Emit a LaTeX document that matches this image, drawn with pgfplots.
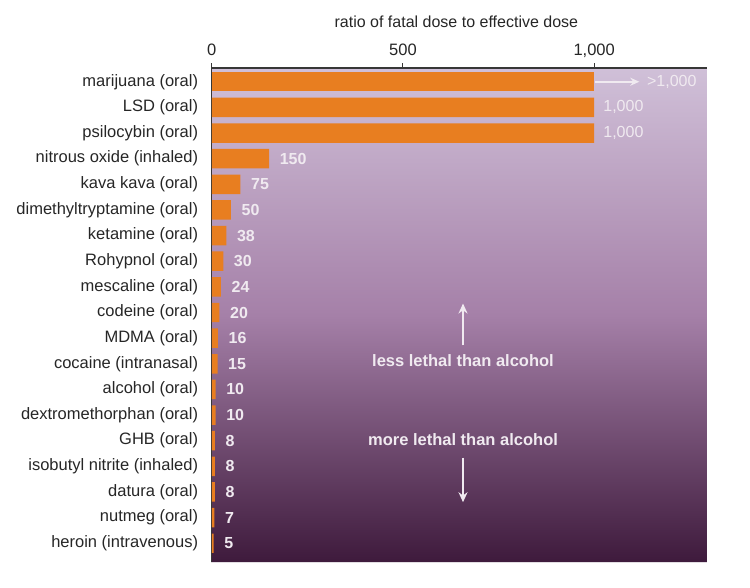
\documentclass[border=0pt]{standalone}
\usepackage{fontspec}
\setmainfont{Liberation Sans}
\usepackage{pgfplots}
\usepackage{pgfplotstable}
\pgfplotsset{compat=1.18}
\usetikzlibrary{arrows.meta}
\definecolor{barorange}{RGB}{232,126,32}
\definecolor{bgtop}{RGB}{208,192,216}
\definecolor{bgmid}{RGB}{165,128,168}
\definecolor{bgbot}{RGB}{62,26,60}
\definecolor{labtxt}{RGB}{240,234,240}
\definecolor{axcol}{RGB}{55,55,55}
\newcommand{\fs}{\fontsize{16.5bp}{19bp}\selectfont}
\newcommand{\fv}{\fontsize{16bp}{19bp}\selectfont}
\pgfplotstableread{
y x lab
0 5 5
1 7 7
2 8 8
3 8 8
4 8 8
5 10 10
6 10 10
7 15 15
8 16 16
9 20 20
10 24 24
11 30 30
12 38 38
13 50 50
14 75 75
15 150 150
}\datatab
\pgfplotstableread{
y x lab
16 1000 1,000
17 1000 1,000
}\bigtab
\begin{document}
\begin{tikzpicture}
\begin{axis}[
  scale only axis, width=495bp, height=494bp,
  xmin=0, xmax=1295, ymin=-0.74, ymax=18.535,
  axis x line*=top, axis y line*=left,
  axis line style={axcol, line width=1.3bp},
  xtick={0,500,1000}, xticklabels={0,500,{1,000}},
  ytick={0,...,18},
  yticklabels={heroin (intravenous), nutmeg (oral), datura (oral), isobutyl nitrite (inhaled), GHB (oral), dextromethorphan (oral), alcohol (oral), cocaine (intranasal), MDMA (oral), codeine (oral), mescaline (oral), Rohypnol (oral), ketamine (oral), dimethyltryptamine (oral), kava kava (oral), nitrous oxide (inhaled), psilocybin (oral), LSD (oral), marijuana (oral)},
  tick align=outside,
  x tick style={axcol, line width=1bp}, major tick length=5bp,
  y tick style={draw=none},
  ticklabel style={font=\fs, text=black!85},
  yticklabel style={inner sep=0pt, xshift=-8.5bp},
  xticklabel style={inner sep=0pt, anchor=base, yshift=8bp},
  axis background/.style={top color=bgtop, bottom color=bgbot, middle color=bgmid},
  xbar, bar width=0.76,
  clip=false,
]
\addplot[fill=barorange, draw=none, bar shift=0pt,
  nodes near coords, point meta=explicit symbolic,
  nodes near coords style={anchor=west, font=\fv\bfseries, text=labtxt, inner sep=0pt, xshift=10.5bp}]
  table[x=x, y=y, meta=lab] {\datatab};
\addplot[fill=barorange, draw=none, bar shift=0pt,
  nodes near coords, point meta=explicit symbolic,
  nodes near coords style={anchor=west, font=\fv, text=labtxt, inner sep=0pt, xshift=9bp}]
  table[x=x, y=y, meta=lab] {\bigtab};
\addplot[fill=barorange, draw=none, bar shift=0pt] coordinates {(1000,18)};
\draw[labtxt, line width=1.6bp, -{Stealth[length=9bp,width=8bp]}] (axis cs:1003,18) -- (axis cs:1118,18);
\node[anchor=west, font=\fv, text=labtxt, inner sep=0pt] at (axis cs:1138,18) {>1,000};
\node[font=\fs\bfseries, text=labtxt] at (axis cs:657,7.13) {less lethal than alcohol};
\draw[labtxt, line width=2.2bp, -{Stealth[length=10bp,width=9bp]}] (axis cs:657,7.72) -- (axis cs:657,9.35);
\node[font=\fs\bfseries, text=labtxt] at (axis cs:657,4.04) {more lethal than alcohol};
\draw[labtxt, line width=2.2bp, -{Stealth[length=10bp,width=9bp]}] (axis cs:657,3.34) -- (axis cs:657,1.6);
\draw[white!85!bgbot, line width=0.8bp] (axis description cs:0,0) -- (axis description cs:1,0);
\node[font=\fontsize{16bp}{19bp}\selectfont, text=black!85, anchor=base, inner sep=0pt] at ([yshift=40.5bp, xshift=-3bp]axis description cs:0.5,1) {ratio of fatal dose to effective dose};
\coordinate (SW) at (axis description cs:0,0);
\coordinate (NE) at (axis description cs:1,1);
\end{axis}
\path[use as bounding box] ([shift={(-211.7bp,-25bp)}]SW) rectangle ([shift={(43bp,68bp)}]NE);
\end{tikzpicture}
\end{document}
